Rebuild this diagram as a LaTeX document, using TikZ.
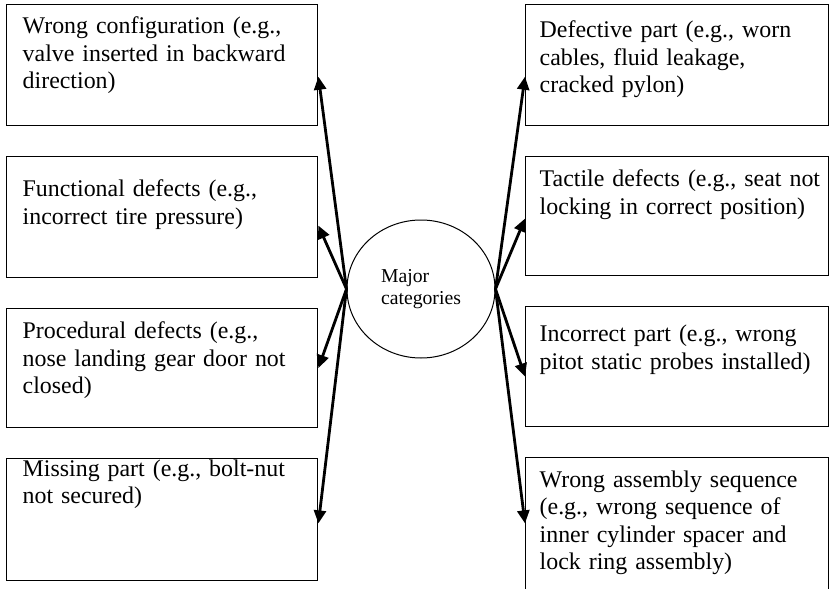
\documentclass[tikz,border=0pt]{standalone}
\usepackage{fontspec}
\setmainfont{Liberation Serif}
\usetikzlibrary{arrows.meta,positioning,shapes.geometric}

\tikzset{
  catbox/.style={draw, line width=1.4pt, align=left, text width=279pt,
    inner xsep=16pt, inner ysep=0pt, text height=31pt, text depth=89pt,
    font=\fontsize{23.9}{27.5}\selectfont},
  rightbox/.style={catbox, text width=275pt, inner xsep=14pt},
  hub/.style={draw, ellipse, line width=1pt, minimum width=148pt,
    minimum height=138pt, inner sep=0pt, align=left,
    font=\fontsize{19.7}{22}\selectfont},
  spoke/.style={line width=2.8pt}
}

\begin{document}
\begin{tikzpicture}[x=1pt,y=-1pt,>={Triangle[length=13pt,width=12pt]},node distance=29.5pt]
  \useasboundingbox (0,0) rectangle (831,589);

  \node[hub] (major) at (421,289) {Major\\categories};

  % left column
  \node[catbox, anchor=north west, text height=29pt, text depth=92pt] (wc) at (6,4)
    {Wrong configuration (e.g.,\\valve inserted in backward\\direction)};
  \node[catbox, text height=40pt, text depth=81pt] (fd) [below=of wc]
    {Functional defects (e.g.,\\incorrect tire pressure)};
  \node[catbox, text height=30pt, text depth=89pt] (pd) [below=of fd]
    {Procedural defects (e.g.,\\nose landing gear door not\\closed)};
  \node[catbox, text height=18pt, text depth=104pt] (mp) [below=of pd]
    {Missing part (e.g., bolt-nut\\not secured)};

  % right column
  \node[rightbox, anchor=north west, text height=33pt, text depth=88pt] (dp) at (525,4)
    {Defective part (e.g., worn\\cables, fluid leakage,\\cracked pylon)};
  \node[rightbox, text height=30pt, text depth=89pt] (td) [below=of dp]
    {\mbox{Tactile defects (e.g., seat not}\\locking in correct position)};
  \node[rightbox, text height=35pt, text depth=85pt] (ip) [below=of td]
    {Incorrect part (e.g., wrong\\pitot static probes installed)};
  \node[rightbox, text height=30pt, text depth=102pt] (ws) [below=of ip]
    {Wrong assembly sequence\\(e.g., wrong sequence of\\inner cylinder spacer and\\lock ring assembly)};

  \path[->, spoke]
    (major.west) edge ([yshift=-11.5pt]wc.east)
                 edge ([yshift=-8.5pt]fd.east)
                 edge (pd.east)
                 edge ([yshift=-4pt]mp.east)
    (major.east) edge ([yshift=-11.5pt]dp.west)
                 edge ([yshift=-2.5pt]td.west)
                 edge ([yshift=-10pt]ip.west)
                 edge (ws.west);
\end{tikzpicture}
\end{document}
